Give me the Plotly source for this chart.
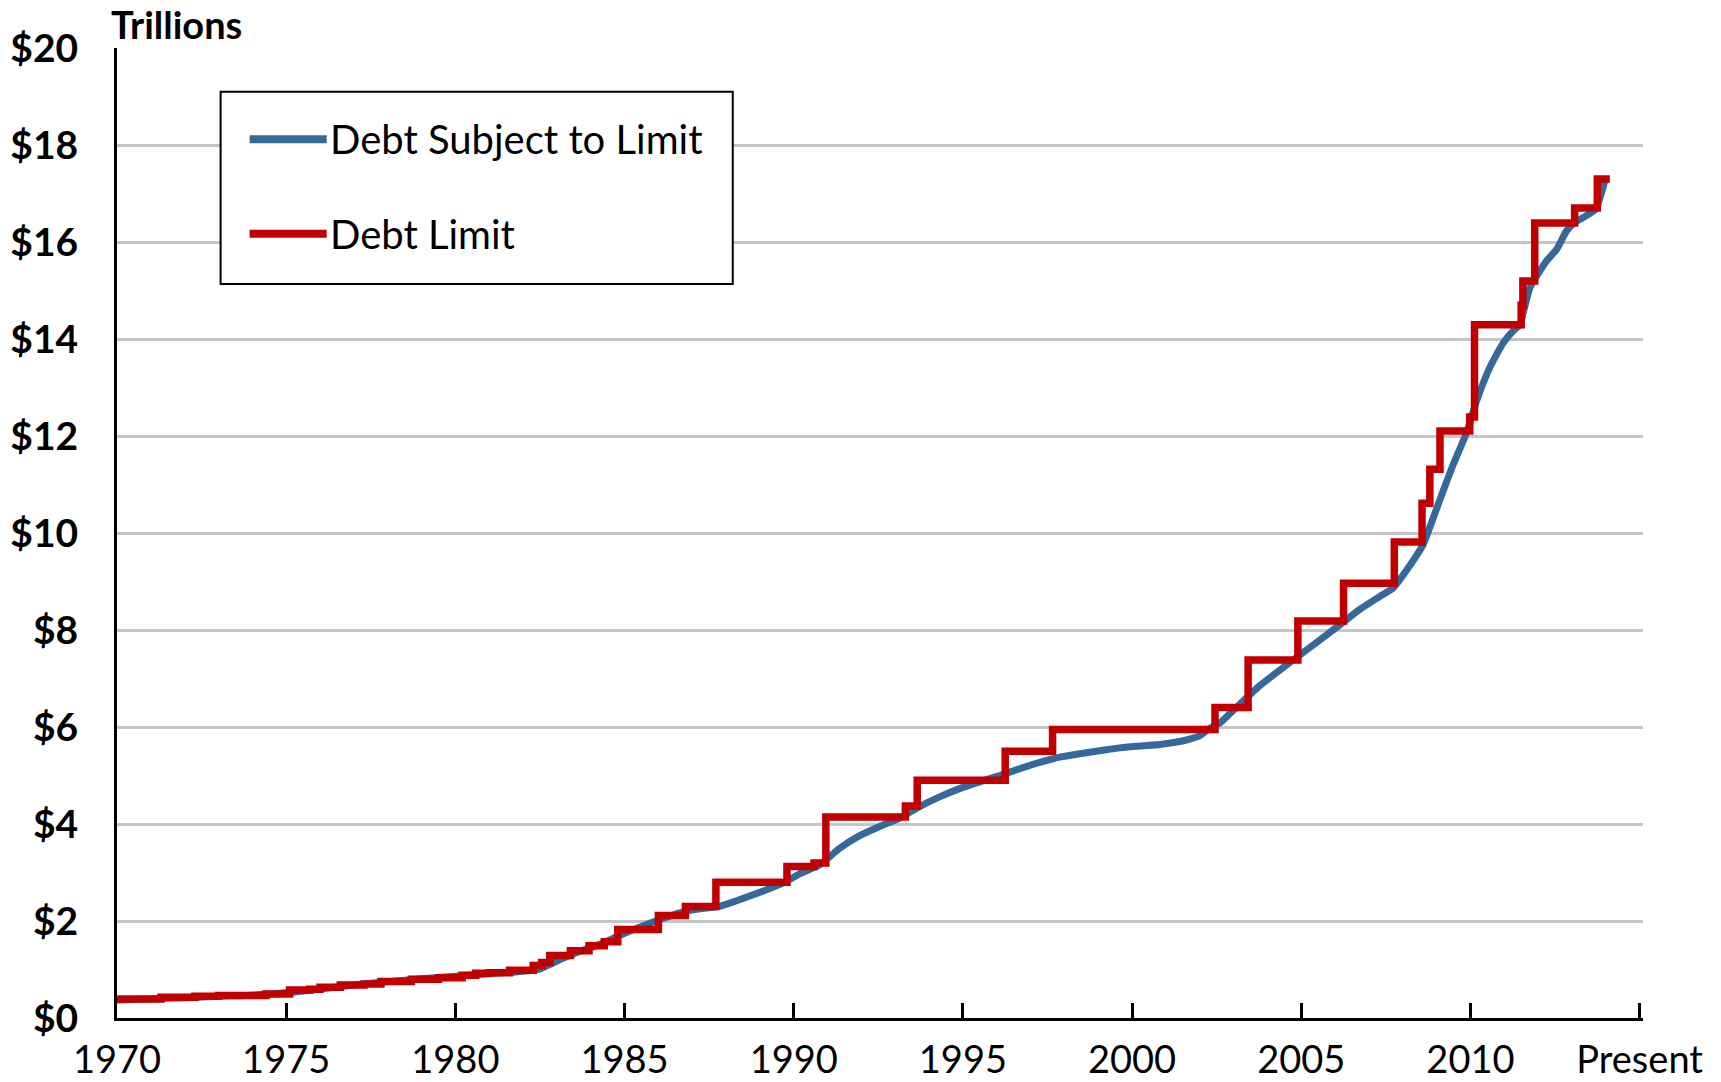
import plotly.graph_objects as go

# ---- data, values in trillions of dollars ----
debt_years = [1970.0, 1971.0, 1972.0, 1973.0, 1974.0, 1975.0, 1976.0, 1977.0, 1978.0,
              1979.0, 1980.0, 1981.0, 1981.9, 1982.49, 1983.08, 1983.67, 1984.27,
              1984.85, 1985.44, 1986.04, 1986.63, 1987.22, 1987.81, 1988.8, 1989.68,
              1990.2, 1990.77, 1991.36, 1991.95, 1992.54, 1993.13, 1993.72, 1994.31,
              1994.9, 1995.49, 1996.09, 1996.68, 1997.27, 1997.86, 1998.45, 1999.04,
              1999.63, 2000.23, 2000.82, 2001.41, 2001.7, 2002.0, 2002.29, 2002.59,
              2003.18, 2003.77, 2004.36, 2004.95, 2005.54, 2006.13, 2006.72, 2007.32,
              2007.72, 2008.1, 2008.6, 2008.9, 2009.19, 2009.49, 2009.88, 2010.18,
              2010.57, 2010.97, 2011.31, 2011.45, 2011.76, 2012.25, 2012.55, 2012.84,
              2013.04, 2013.7, 2013.97]
debt_values = [0.37, 0.39, 0.42, 0.45, 0.47, 0.52, 0.60, 0.68, 0.75,
               0.81, 0.86, 0.91, 0.96, 1.01, 1.20, 1.37, 1.52,
               1.70, 1.87, 2.03, 2.17, 2.25, 2.30, 2.54, 2.78,
               2.98, 3.16, 3.50, 3.76, 3.95, 4.12, 4.36, 4.56,
               4.73, 4.87, 5.00, 5.14, 5.27, 5.38, 5.45, 5.51,
               5.57, 5.61, 5.64, 5.70, 5.75, 5.82, 5.97, 6.08,
               6.47, 6.85, 7.17, 7.48, 7.79, 8.10, 8.42, 8.69,
               8.87, 9.22, 9.76, 10.31, 10.86, 11.41, 12.06, 12.72,
               13.41, 13.92, 14.20, 14.28, 15.06, 15.61, 15.85, 16.23,
               16.38, 16.68, 17.26]

limit_years = [1970.0, 1971.3, 1972.3, 1973.0, 1974.4, 1975.1, 1975.7, 1976.0, 1976.6,
               1977.3, 1977.8, 1978.7, 1979.5, 1980.2, 1980.6, 1981.0, 1981.6, 1982.3,
               1982.55, 1982.79, 1983.4, 1983.95, 1984.4, 1984.8, 1986.0, 1986.8,
               1987.7, 1989.8, 1990.6, 1990.95, 1993.3, 1993.65, 1996.25, 1997.65,
               2002.45, 2003.43, 2004.9, 2006.25, 2007.75, 2008.57, 2008.8, 2009.1,
               2009.98, 2010.12, 2011.5, 2011.55, 2011.9, 2013.08, 2013.75, 2014.12]
limit_values = [0.39, 0.43, 0.45, 0.465, 0.495, 0.577, 0.595, 0.636, 0.682,
                0.70, 0.752, 0.798, 0.83, 0.879, 0.925, 0.935, 0.985, 1.08,
                1.143, 1.29, 1.389, 1.49, 1.573, 1.824, 2.111, 2.30,
                2.80, 3.123, 3.195, 4.145, 4.37, 4.90, 5.50, 5.95,
                6.40, 7.384, 8.184, 8.965, 9.815, 10.615, 11.315, 12.104,
                12.394, 14.294, 14.694, 15.194, 16.394, 16.70, 17.30, 17.30]

x_tick_vals = [1970, 1975, 1980, 1985, 1990, 1995, 2000, 2005, 2010, 2015]
x_tick_text = ["1970", "1975", "1980", "1985", "1990", "1995", "2000", "2005", "2010", "Present"]
y_tick_vals = [0, 2, 4, 6, 8, 10, 12, 14, 16, 18, 20]
y_tick_text = ["$0", "$2", "$4", "$6", "$8", "$10", "$12", "$14", "$16", "$18", "$20"]

series_names = ["Debt Subject to Limit", "Debt Limit"]
BLUE = "#36699B"
RED = "#C00000"
FONT = "Lato"

fig = go.Figure()
fig.add_trace(go.Scatter(x=debt_years, y=debt_values, mode="lines", name=series_names[0],
                         line=dict(color=BLUE, width=7, shape="spline", smoothing=0.5)))
fig.add_trace(go.Scatter(x=limit_years, y=limit_values, mode="lines", name=series_names[1],
                         line=dict(color=RED, width=7.5, shape="hv")))

# manual legend box (paper coordinates)
lx0, lx1, ly0, ly1 = 0.0679, 0.4035, 0.7567, 0.955
shapes = [dict(type="rect", xref="paper", yref="paper", x0=lx0, x1=lx1, y0=ly0, y1=ly1,
               line=dict(color="black", width=2), fillcolor="white", layer="above")]
annotations = []
for name, color, yy in [(series_names[0], BLUE, 0.906), (series_names[1], RED, 0.8086)]:
    shapes.append(dict(type="line", xref="paper", yref="paper", x0=0.0869, x1=0.1374,
                       y0=yy, y1=yy, line=dict(color=color, width=8), layer="above"))
    annotations.append(dict(xref="paper", yref="paper", x=0.1382, y=yy, text=name,
                            showarrow=False, xanchor="left", yanchor="middle",
                            font=dict(family=FONT, size=40, color="black")))

annotations.append(dict(xref="paper", yref="paper", x=-0.005, y=1.025, text="<b>Trillions</b>",
                        showarrow=False, xanchor="left", yanchor="middle",
                        font=dict(family=FONT, size=38, color="black")))

fig.update_layout(
    width=1721, height=1082, autosize=False,
    margin=dict(l=117, r=78, t=48, b=64, pad=0),
    paper_bgcolor="white", plot_bgcolor="white",
    showlegend=False,
    shapes=shapes, annotations=annotations,
    xaxis=dict(range=[1970, 2015.1], tickmode="array", tickvals=x_tick_vals, ticktext=x_tick_text,
               ticks="inside", ticklen=15, tickwidth=3, tickcolor="black", automargin=False,
               showline=True, linecolor="black", linewidth=3, showgrid=False, zeroline=False,
               tickfont=dict(family=FONT, size=38, color="black"), ticklabelstandoff=6),
    yaxis=dict(range=[0, 20], tickmode="array", tickvals=y_tick_vals, ticktext=y_tick_text,
               ticks="", showline=True, linecolor="black", linewidth=3, automargin=False,
               showgrid=True, gridcolor="#C6C6C6", gridwidth=2.5, zeroline=False,
               tickfont=dict(family=FONT, size=39, color="black", weight="bold"),
               ticklabelstandoff=28),
)

fig.write_html("out.html")
